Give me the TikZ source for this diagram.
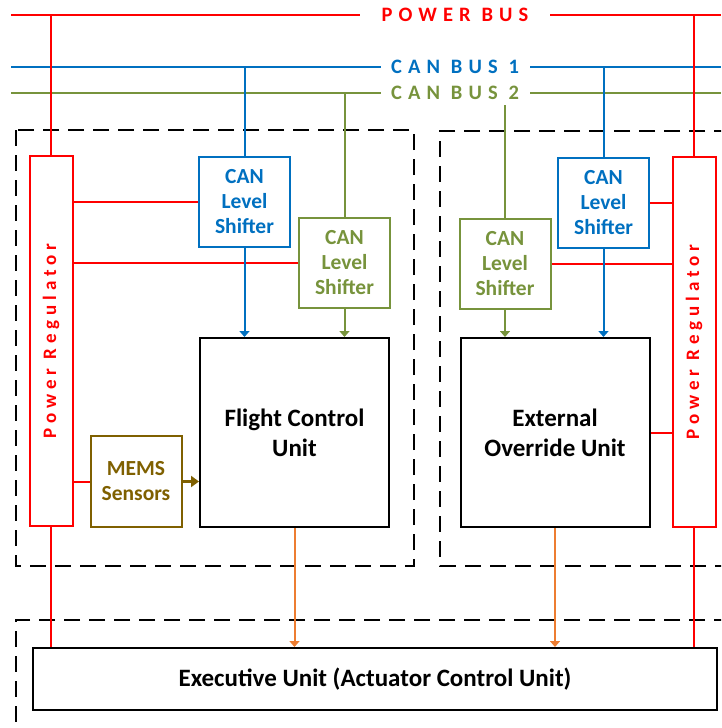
\documentclass[tikz,border=0pt]{standalone}
\usepackage{fontspec}
\setmainfont{Carlito}
\newfontfamily\spacedfont[LetterSpace=30]{Carlito}
\newfontfamily\regfont[LetterSpace=26]{Carlito}
\usetikzlibrary{arrows.meta}
\usetikzlibrary{calc}

\definecolor{pwrred}{HTML}{FF0000}
\definecolor{canblue}{HTML}{0070C0}
\definecolor{cangreen}{HTML}{77933C}
\definecolor{memsbrown}{HTML}{7F6000}
\definecolor{actorange}{HTML}{ED7D31}

\begin{document}
\begin{tikzpicture}[x=1pt, y=-1pt,
    bus/.style={line width=2pt},
    buslabel/.style={fill=white, text=#1, inner sep=0pt, minimum height=24pt,
      font=\spacedfont\bfseries\fontsize{20.5}{24}\selectfont},
    group/.style={line width=2.6pt, dash pattern=on 16pt off 9pt},
    shifter/.style={draw=#1, text=#1, line width=2pt, inner sep=0pt,
      minimum width=91pt, minimum height=90pt, align=center,
      font=\bfseries\fontsize{21.5}{25}\selectfont},
    unit/.style={draw, line width=2pt, inner sep=0pt, minimum width=189pt,
      minimum height=189pt, align=center, font=\bfseries\fontsize{25}{30}\selectfont},
    regulator/.style={draw=pwrred, line width=2pt, minimum width=43pt,
      minimum height=370pt, inner sep=0pt},
    reglabel/.style={rotate=90, text=pwrred, font=\regfont\bfseries\fontsize{19}{24}\selectfont},
    link/.style={line width=2pt, -{Triangle[width=10pt,length=6pt]}}]

  \clip (0,0) rectangle (721,728);

  % groups
  \draw [group] (16,130) rectangle (414,566);
  \draw [group] (730,131) -| (440,566) -- (730,566);
  \draw [group] (730,620) -| (16,740);

  % buses
  \coordinate (pwrW) at (11,15);
  \coordinate (pwrE) at (721,15);
  \coordinate (can1W) at (11,67);
  \coordinate (can1E) at (721,67);
  \coordinate (can2W) at (11,93);
  \coordinate (can2E) at (721,93);
  \draw [bus, pwrred] (pwrW) -- (pwrE);
  \draw [bus, canblue] (can1W) -- (can1E);
  \draw [bus, cangreen] (can2W) -- (can2E);
  \node [buslabel=pwrred, minimum width=190pt] (pwrlbl) at (455,15) {POWER BUS};
  \node [buslabel=canblue, minimum width=149pt] (can1lbl) at (455,67) {CAN BUS 1};
  \node [buslabel=cangreen, minimum width=149pt] (can2lbl) at (455,93) {CAN BUS 2};

  % blocks
  \node [regulator] (regL) at (51,341) {};
  \node [regulator] (regR) at (694,342) {};
  \node [reglabel] (regLtxt) at (regL.center) {Power Regulator};
  \node [reglabel] (regRtxt) at (regR.center) {Power Regulator};

  \node [shifter=canblue] (blueL) at (244.5,201.5) {CAN\\Level\\Shifter};
  \node [shifter=cangreen] (greenL) at (344.5,263) {CAN\\Level\\Shifter};
  \node [shifter=cangreen] (greenR) at (505,263.5) {CAN\\Level\\Shifter};
  \node [shifter=canblue] (blueR) at (603.5,203) {CAN\\Level\\Shifter};

  \node [unit] (fcu) at (294.5,432.5) {Flight Control\\Unit};
  \node [unit] (eou) at (555,432.5) {External\\Override Unit};
  \node [shifter=memsbrown, minimum height=91pt] (mems) at (136,481.5) {MEMS\\Sensors};
  \node [draw, line width=2pt, minimum width=684pt, minimum height=62pt,
    font=\bfseries\fontsize{25}{28}\selectfont] (exec) at (375,679)
    {Executive Unit (Actuator Control Unit)};

  % power
  \draw [bus, pwrred] (regL.north) -- (regL.north |- pwrW);
  \draw [bus, pwrred] (regR.north) -- (regR.north |- pwrW);
  \draw [bus, pwrred] (regL.south) -- (regL.south |- exec.north);
  \draw [bus, pwrred] (regR.south) -- (regR.south |- exec.north);
  \draw [bus, pwrred] (blueL.west) -- (blueL.west -| regL.east);
  \draw [bus, pwrred] (greenL.west) -- (greenL.west -| regL.east);
  \draw [bus, pwrred] ($(fcu.north west)+(0,41)$) -- ($(fcu.north west)+(0,41)$ -| regL.east);
  \draw [bus, pwrred] (mems.west) -- (mems.west -| regL.east);
  \draw [bus, pwrred] (blueR.east) -- (blueR.east -| regR.west);
  \draw [bus, pwrred] (greenR.east) -- (greenR.east -| regR.west);
  \draw [bus, pwrred] (eou.east) -- (eou.east -| regR.west);

  % can
  \draw [bus, canblue] (blueL.north) -- (blueL.north |- can1W);
  \draw [bus, canblue] (blueR.north) -- (blueR.north |- can1W);
  \draw [bus, cangreen] (greenL.north) -- (greenL.north |- can2W);
  \draw [bus, cangreen] (greenR.north) -- (greenR.north |- can2lbl.south);
  \draw [link, canblue] (blueL.south) -- (blueL.south |- fcu.north);
  \draw [link, cangreen] (greenL.south) -- (greenL.south |- fcu.north);
  \draw [link, cangreen] (greenR.south) -- (greenR.south |- eou.north);
  \draw [link, canblue] (blueR.south) -- (blueR.south |- eou.north);

  % sensors and actuators
  \draw [line width=3.5pt, memsbrown, -{Triangle[width=11pt,length=8pt]}]
    (mems.east) -- (mems.east -| fcu.west);
  \draw [link, actorange] (fcu.south) -- (fcu.south |- exec.north);
  \draw [link, actorange] (eou.south) -- (eou.south |- exec.north);

\end{tikzpicture}
\end{document}
